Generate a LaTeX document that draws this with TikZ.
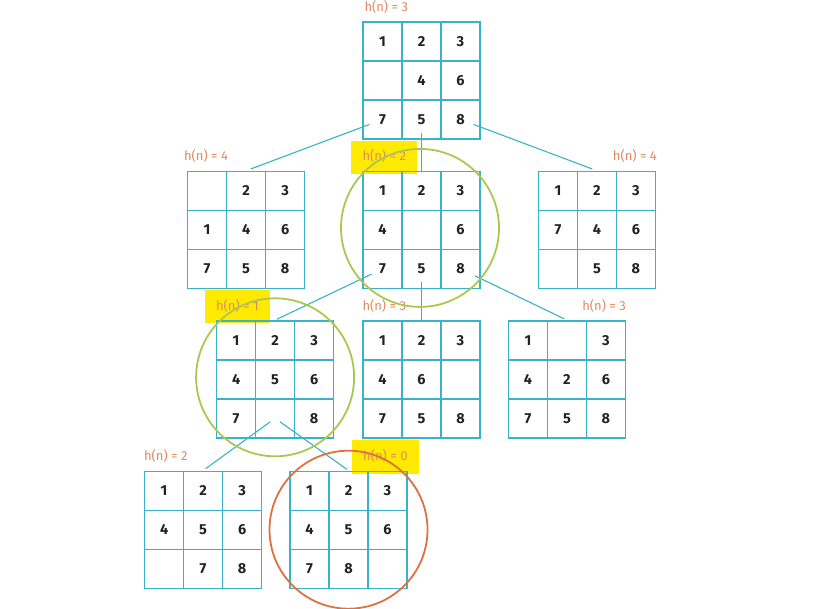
\documentclass[tikz,border=0pt]{standalone}
\usepackage{fontspec}
\setmainfont{Fira Sans}
\usepackage{tikz}
\usetikzlibrary{
	matrix,
	positioning,
	fit,
	backgrounds
}
\definecolor{gridcol}{RGB}{58,178,200}
\definecolor{lblcol}{RGB}{224,137,96}
\definecolor{hlyellow}{RGB}{255,234,0}
\definecolor{ringgreen}{RGB}{170,200,80}
\definecolor{ringorange}{RGB}{224,112,64}
\definecolor{digitcol}{RGB}{34,34,34}

\begin{document}
\begin{tikzpicture}[
			x=1pt, y=1pt,
			cell/.style={draw=gridcol, line width=1.4pt, minimum size=39pt, inner sep=0pt, outer sep=0pt, anchor=center, text=digitcol, font=\fontsize{14.5}{14.5}\selectfont\bfseries},
			board/.style={matrix of nodes, nodes in empty cells, inner sep=0pt, outer sep=0pt, column sep=-1.4pt, row sep=-1.4pt, nodes={cell}},
			lbl/.style={inner sep=0pt, text=lblcol, text height=10pt, text depth=3pt, font=\fontsize{13}{13}\selectfont},
			hilite/.style={fill=hlyellow, inner xsep=11pt, inner ysep=10pt},
			link/.style={draw=gridcol, line width=1.1pt},
			okring/.style={draw=ringgreen, line width=1.8pt, circle, minimum size=158pt, inner sep=0pt},
			goalring/.style={draw=ringorange, line width=1.8pt, circle, minimum size=158pt, inner sep=0pt}
		]
		\useasboundingbox (0,0) rectangle (818,-608);

		\matrix[board] (root) at (421.5,-80.5) {1 & 2 & 3\\ & 4 & 6\\ 7 & 5 & 8\\};
		\matrix[board, below=31pt of root] (mid2) {1 & 2 & 3\\ 4 & & 6\\ 7 & 5 & 8\\};
		\matrix[board, left=57pt of mid2] (left2) { & 2 & 3\\ 1 & 4 & 6\\ 7 & 5 & 8\\};
		\matrix[board, right=57pt of mid2] (right2) {1 & 2 & 3\\ 7 & 4 & 6\\ & 5 & 8\\};
		\matrix[board, below=31pt of mid2] (mid3) {1 & 2 & 3\\ 4 & 6 & \\ 7 & 5 & 8\\};
		\matrix[board, left=28pt of mid3] (left3) {1 & 2 & 3\\ 4 & 5 & 6\\ 7 & & 8\\};
		\matrix[board, right=27pt of mid3] (right3) {1 & & 3\\ 4 & 2 & 6\\ 7 & 5 & 8\\};
		\matrix[board, below=32pt of left3, xshift=-72pt] (left4) {1 & 2 & 3\\ 4 & 5 & 6\\ & 7 & 8\\};
		\matrix[board, right=27pt of left4] (right4) {1 & 2 & 3\\ 4 & 5 & 6\\ 7 & 8 & \\};

		\node[lbl, anchor=base west] (h1) at ([xshift=2pt, yshift=10pt]root.north west) {h(n) = 3};
		\node[lbl, anchor=base west] (h2a) at ([xshift=-3pt, yshift=10pt]left2.north west) {h(n) = 4};
		\node[lbl, anchor=base west] (h2b) at ([yshift=10pt]mid2.north west) {h(n) = 2};
		\node[lbl, anchor=base east] (h2c) at ([xshift=1pt, yshift=10pt]right2.north east) {h(n) = 4};
		\node[lbl, anchor=base west] (h3a) at ([yshift=10pt]left3.north west) {h(n) = 1};
		\node[lbl, anchor=base west] (h3b) at ([yshift=10pt]mid3.north west) {h(n) = 3};
		\node[lbl, anchor=base east] (h3c) at ([yshift=10pt]right3.north east) {h(n) = 3};
		\node[lbl, anchor=base west] (h4a) at ([yshift=10pt]left4.north west) {h(n) = 2};
		\node[lbl, anchor=base east] (h4b) at ([yshift=10pt]right4.north east) {h(n) = 0};

		\begin{scope}[on background layer]
			\node[hilite, fit=(h2b)] (y2) {};
			\node[hilite, fit=(h3a)] (y3) {};
			\node[hilite, fit=(h4b)] (y4) {};
		\end{scope}

		\draw[link, shorten <=14pt, shorten >=5pt] (root-3-1.center) -- (left2.north);
		\draw[link, shorten <=13pt] (root-3-2.center) -- (mid2.north);
		\draw[link, shorten <=14pt, shorten >=5pt] (root-3-3.center) -- (right2.north);
		\draw[link, shorten <=12pt, shorten >=2pt] (mid2-3-1.center) -- (left3.north);
		\draw[link, shorten <=13pt] (mid2-3-2.center) -- (mid3.north);
		\draw[link, shorten <=16pt, shorten >=3pt] (mid2-3-3.center) -- (right3.north);
		\draw[link, shorten <=6pt, shorten >=3pt] (left3-3-2.center) -- (left4.north);
		\draw[link, shorten <=6pt, shorten >=2pt] (left3-3-2.center) -- (right4.north);

		\node[okring] (c2) at ([xshift=-1.5pt, yshift=2pt]mid2.center) {};
		\node[okring] (c3) at ([yshift=2pt]left3.center) {};
		\node[goalring] (c4) at (right4.center) {};
	\end{tikzpicture}
\end{document}
